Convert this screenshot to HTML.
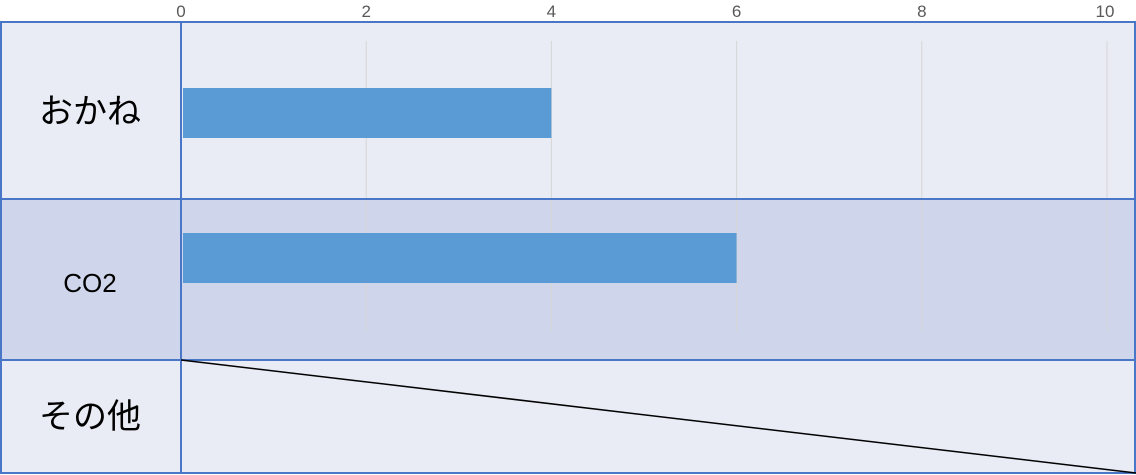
<!DOCTYPE html>
<html><head><meta charset="utf-8"><style>
html,body{margin:0;padding:0;background:#fff;}
svg{display:block;font-family:"Liberation Sans","Noto Sans CJK JP",sans-serif;}
</style></head><body>
<svg id="chart" width="1136" height="475" viewBox="0 0 1136 475">
  <rect x="0" y="22" width="1136" height="177" fill="#e9ebf5"/>
  <rect x="0" y="199" width="1136" height="161" fill="#cfd5ea"/>
  <rect x="0" y="360" width="1136" height="114" fill="#e9ebf5"/>
  <g id="grid"></g>
  <g id="ticks"></g>
  <g id="bars"></g>
  <g fill="none" stroke="#4a76c8" stroke-width="2">
    <rect x="1" y="22" width="1134" height="451"/>
    <line x1="0" y1="199" x2="1136" y2="199"/>
    <line x1="0" y1="360" x2="1136" y2="360"/>
    <line x1="181" y1="22" x2="181" y2="474"/>
  </g>
  <line x1="181" y1="360" x2="1136" y2="473" stroke="#000" stroke-width="1.5"/>
  <text x="90" y="123" font-size="34" text-anchor="middle" fill="#000">おかね</text>
  <text x="90" y="292" font-size="26" text-anchor="middle" fill="#000">CO2</text>
  <text x="90" y="428" font-size="34" text-anchor="middle" fill="#000">その他</text>
</svg>
<script>
const categories = ["おかね", "CO2"];
const values = [4, 6];
const tickValues = [0, 2, 4, 6, 8, 10];
const NS = "http://www.w3.org/2000/svg";
const x0 = 181, x10 = 1107;
function xScale(v){ return x0 + (x10 - x0) * v / 10; }
const barTops = [88, 233];
const grid = document.getElementById('grid');
const ticks = document.getElementById('ticks');
const bars = document.getElementById('bars');
tickValues.forEach(t => {
  const x = xScale(t);
  if (t > 0) {
    const l = document.createElementNS(NS, 'line');
    l.setAttribute('x1', x); l.setAttribute('x2', x);
    l.setAttribute('y1', 41); l.setAttribute('y2', 331);
    l.setAttribute('stroke', '#d6d6d6'); l.setAttribute('stroke-width', '1');
    
    
    grid.appendChild(l);
  }
  const tx = document.createElementNS(NS, 'text');
  tx.setAttribute('x', t === 10 ? x - 2 : x);
  tx.setAttribute('y', 17);
  tx.setAttribute('font-size', '17');
  tx.setAttribute('fill', '#595959');
  tx.setAttribute('text-anchor', 'middle');
  tx.textContent = String(t);
  
  
  ticks.appendChild(tx);
});
categories.forEach((c, i) => {
  const r = document.createElementNS(NS, 'rect');
  r.setAttribute('x', xScale(0) + 2);
  r.setAttribute('y', barTops[i]);
  r.setAttribute('width', xScale(values[i]) - xScale(0) - 2);
  r.setAttribute('height', 50);
  r.setAttribute('fill', '#5b9bd5');
  
  
  bars.appendChild(r);
});
</script>
</body></html>
